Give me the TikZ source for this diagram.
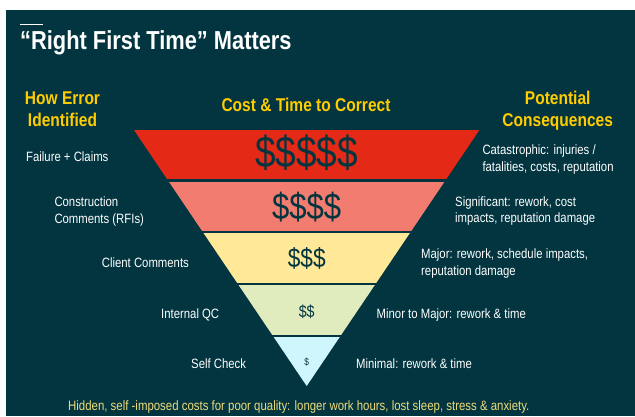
\documentclass[tikz,border=0pt]{standalone}
\usepackage{fontspec}
\setmainfont{Liberation Sans}[FakeStretch=0.84]
\usepackage{xcolor}
\usetikzlibrary{calc}

\definecolor{bgteal}{HTML}{023540}
\definecolor{headgold}{HTML}{FFCC00}
\definecolor{hiddengold}{HTML}{EFDC7A}
\definecolor{bandred}{HTML}{E42A16}
\definecolor{bandsalmon}{HTML}{F27C6F}
\definecolor{bandyellow}{HTML}{FFE897}
\definecolor{bandgreen}{HTML}{E0EBBE}
\definecolor{bandblue}{HTML}{CFF5FD}

\tikzset{
	heading/.style={anchor=base, inner sep=0pt, text=headgold, align=center,
		font=\fontsize{18.5}{22}\selectfont\bfseries},
	lefttext/.style={anchor=base west, inner sep=0pt, text=white, align=left,
		font=\fontsize{13.5}{16.5}\selectfont},
	righttext/.style={lefttext},
	dollars/.style={inner sep=0pt, text=bgteal},
}

\begin{document}
\begin{tikzpicture}[x=1pt, y=-1pt]
			\useasboundingbox (0,0) rectangle (635,416);
			\fill[white] (0,0) rectangle (635,416);
			\fill[bgteal] (6,10) rectangle (635,416);

			% title
			\draw[white, line width=0.8pt] (20,24) -- (42.7,24);
			\node[anchor=base west, inner sep=0pt, text=white, font=\fontsize{26}{30}\selectfont\bfseries]
				(title) at (20,49.3) {“Right First Time” Matters};

			% column headings (base = last line)
			\node[heading] (howerror) at (62.5,126) {How Error\\Identified};
			\node[heading] (costtime) at (306,111) {Cost \& Time to Correct};
			\node[heading] (potential) at (557.7,126) {Potential\\Consequences};

			% funnel
			\coordinate (tl) at (134,130);
			\coordinate (tr) at (479.4,130);
			\coordinate (apex) at (306.7,386);
			\begin{scope}
				\clip (tl) -- (tr) -- (apex) -- cycle;
				\fill[bandred] (100,130) rectangle (500,179.3);
				\fill[bandsalmon] (100,182) rectangle (500,230.7);
				\fill[bandyellow] (100,233) rectangle (500,282.7);
				\fill[bandgreen] (100,285.3) rectangle (500,335.3);
				\fill[bandblue] (100,337.3) rectangle (500,390);
			\end{scope}

			\node[dollars, font=\fontsize{44}{44}\selectfont] (d5) at (306.7,153) {\$\$\$\$\$};
			\node[dollars, font=\fontsize{37}{37}\selectfont] (d4) at (306.7,206.7) {\$\$\$\$};
			\node[dollars, font=\fontsize{27}{27}\selectfont] (d3) at (306.7,258) {\$\$\$};
			\node[dollars, font=\fontsize{17}{17}\selectfont] (d2) at (306.7,311.7) {\$\$};
			\node[dollars, font=\fontsize{10}{10}\selectfont] (d1) at (306.7,362.5) {\$};

			% how error identified
			\node[lefttext] (failure) at (26,161.7) {Failure + Claims};
			\node[lefttext] (construction) at (54.3,223.3) {Construction\\Comments (RFIs)};
			\node[lefttext] (client) at (101.7,267.3) {Client Comments};
			\node[lefttext] (internal) at (161,318) {Internal QC};
			\node[lefttext] (selfcheck) at (191,368) {Self Check};

			% potential consequences
			\node[righttext] (catastrophic) at (482.3,171) {Catastrophic: injuries /\\fatalities, costs, reputation};
			\node[righttext] (significant) at (455,222.7) {Significant: rework, cost\\impacts, reputation damage};
			\node[righttext] (major) at (421,275) {Major: rework, schedule impacts,\\reputation damage};
			\node[righttext] (minor) at (376.5,318) {Minor to Major: rework \& time};
			\node[righttext] (minimal) at (356,368) {Minimal: rework \& time};

			% hidden costs
			\node[anchor=base west, inner sep=0pt, text=hiddengold, font=\fontsize{13.6}{15}\selectfont]
				(hidden) at (68,410) {Hidden, self -imposed costs for poor quality: longer work hours, lost sleep, stress \& anxiety.};

		\end{tikzpicture}
\end{document}
